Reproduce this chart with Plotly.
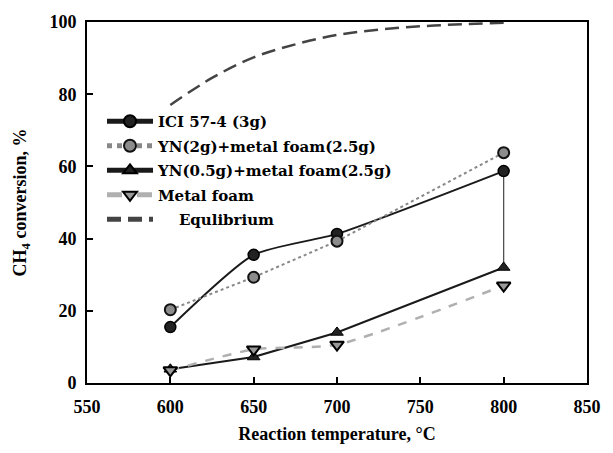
import plotly.graph_objects as go

temps = [600, 650, 700, 800]
ici = [15.5, 35.5, 41.3, 58.7]
yn2 = [20.3, 29.3, 39.3, 63.8]
yn05 = [3.8, 7.2, 14.0, 32.0]
foam = [3.5, 9.3, 10.6, 27.0]
eq_t = [600, 625, 650, 675, 700, 725, 750, 775, 800]
eq_v = [77.0, 84.5, 90.2, 93.8, 96.4, 97.9, 98.8, 99.4, 99.8]

FAM = "Liberation Serif, Times New Roman, serif"
TICKFONT = dict(family=FAM, size=18, color="black", weight="bold")
TITLEFONT = dict(family=FAM, size=18, color="black", weight="bold")
LEGFONT = dict(family="DejaVu Serif, Liberation Serif, serif", size=15, color="black", weight="bold")

fig = go.Figure()
fig.add_trace(go.Scatter(x=[temps[-1], temps[-1]], y=[ici[-1], yn05[-1]], mode="lines",
                         line=dict(color="#444", width=1.2), showlegend=False, hoverinfo="skip"))
fig.add_trace(go.Scatter(x=temps, y=ici, name="ICI 57-4 (3g)", mode="lines+markers", legendgroup="a",
                         line=dict(color="#1a1a1a", width=2, shape="spline", smoothing=0.6),
                         marker=dict(symbol="circle", size=11, color="#222", line=dict(color="#000", width=1.5))))
fig.add_trace(go.Scatter(x=temps, y=yn2, name="YN(2g)+metal foam(2.5g)", mode="lines+markers", legendgroup="b",
                         line=dict(color="#888", width=2, dash="dot"),
                         marker=dict(symbol="circle", size=11, color="#8c8c8c", line=dict(color="#111", width=2))))
fig.add_trace(go.Scatter(x=temps, y=yn05, name="YN(0.5g)+metal foam(2.5g)", mode="lines+markers", legendgroup="c",
                         line=dict(color="#1a1a1a", width=2),
                         marker=dict(symbol="triangle-up", size=11, color="#222", line=dict(color="#000", width=1))))
fig.add_trace(go.Scatter(x=temps, y=foam, name="Metal foam", mode="lines+markers", legendgroup="d",
                         line=dict(color="#b0b0b0", width=2.5, dash="dash", shape="spline", smoothing=0.6),
                         marker=dict(symbol="triangle-down", size=12, color="#999", line=dict(color="#000", width=2))))
fig.add_trace(go.Scatter(x=eq_t, y=eq_v, name="    Equlibrium", mode="lines", legendgroup="e",
                         line=dict(color="#444", width=2.5, dash="14px,7px", shape="spline")))

fig.update_layout(
    width=613, height=453,
    margin=dict(l=87, r=16, t=17, b=68),
    plot_bgcolor="white", paper_bgcolor="white",
    font=TICKFONT,
    showlegend=True,
    legend=dict(x=0.03, y=0.77, xanchor="left", yanchor="top", bgcolor="rgba(0,0,0,0)",
                font=LEGFONT, tracegroupgap=2, itemsizing="constant", itemwidth=46),
)
fig.update_xaxes(range=[550, 850], dtick=50, tick0=550, ticks="inside", ticklen=6, tickwidth=1.5,
                 tickcolor="black", showline=True, linecolor="black", linewidth=2, mirror=True,
                 showgrid=False, zeroline=False, ticklabelstandoff=6,
                 title=dict(text="Reaction temperature, °C", font=TITLEFONT, standoff=12),
                 tickfont=TICKFONT)
fig.update_yaxes(range=[0, 100], dtick=20, ticks="inside", ticklen=6, tickwidth=1.5,
                 tickcolor="black", showline=True, linecolor="black", linewidth=2, mirror=True,
                 showgrid=False, zeroline=False, ticklabelstandoff=5,
                 title=dict(text="CH<sub>4</sub> conversion, %", font=TITLEFONT, standoff=18),
                 tickfont=TICKFONT)

fig.write_html("out.html")
